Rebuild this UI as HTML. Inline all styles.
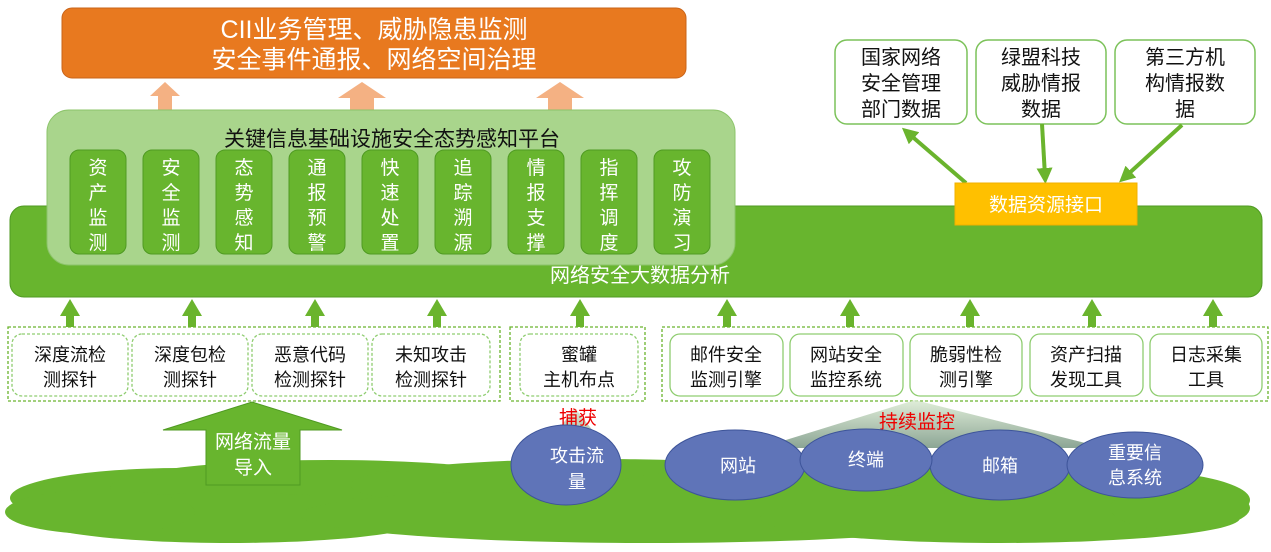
<!DOCTYPE html>
<html><head><meta charset="utf-8"><style>
body{margin:0;background:#fff;}
svg text{font-family:"Liberation Sans","Noto Sans CJK SC",sans-serif;}
</style></head><body>
<svg width="1271" height="547" viewBox="0 0 1271 547" xmlns="http://www.w3.org/2000/svg">
<defs>
<linearGradient id="tri" x1="0" y1="0" x2="0" y2="1">
<stop offset="0" stop-color="#d9ead0"/><stop offset="1" stop-color="#6f8f7a"/></linearGradient>
<marker id="ah" markerWidth="4" markerHeight="4" refX="2" refY="2" orient="auto"><path d="M0,0 L4,2 L0,4 z" fill="#6ab42d"/></marker>
</defs>
<!-- top orange -->
<rect x="62" y="8" width="624" height="70" rx="10" fill="#e8791f" stroke="#c9641a"/>
<text x="374" y="38" font-size="25" fill="#fff" text-anchor="middle">CII业务管理、威胁隐患监测</text>
<text x="374" y="68" font-size="25" fill="#fff" text-anchor="middle">安全事件通报、网络空间治理</text>
<!-- salmon arrows -->
<g fill="#f4b183">
<path d="M150,96 L165,82 L180,96 L172,96 L172,112 L158,112 L158,96z"/>
<path d="M338,98 L362,82 L386,98 L374,98 L374,112 L350,112 L350,98z"/>
<path d="M536,98 L560,82 L584,98 L572,98 L572,112 L548,112 L548,98z"/>
</g>
<!-- big green bar -->
<rect x="10" y="206" width="1252" height="91" rx="14" fill="#68b52e" stroke="#4f9a22"/>
<text x="640" y="282" font-size="20" fill="#fff" text-anchor="middle">网络安全大数据分析</text>
<!-- platform -->
<rect x="47" y="110" width="688" height="155" rx="22" fill="#a9d58c" stroke="#8cc46a"/>
<text x="392" y="146" font-size="21" fill="#111" text-anchor="middle">关键信息基础设施安全态势感知平台</text>
<g font-size="19" fill="#fff" text-anchor="middle">
<g transform="translate(70,150)"><rect width="56" height="104" rx="9" fill="#68b52e" stroke="#4f9a22"/><text x="28" y="24">资</text><text x="28" y="49">产</text><text x="28" y="74">监</text><text x="28" y="99">测</text></g>
<g transform="translate(143,150)"><rect width="56" height="104" rx="9" fill="#68b52e" stroke="#4f9a22"/><text x="28" y="24">安</text><text x="28" y="49">全</text><text x="28" y="74">监</text><text x="28" y="99">测</text></g>
<g transform="translate(216,150)"><rect width="56" height="104" rx="9" fill="#68b52e" stroke="#4f9a22"/><text x="28" y="24">态</text><text x="28" y="49">势</text><text x="28" y="74">感</text><text x="28" y="99">知</text></g>
<g transform="translate(289,150)"><rect width="56" height="104" rx="9" fill="#68b52e" stroke="#4f9a22"/><text x="28" y="24">通</text><text x="28" y="49">报</text><text x="28" y="74">预</text><text x="28" y="99">警</text></g>
<g transform="translate(362,150)"><rect width="56" height="104" rx="9" fill="#68b52e" stroke="#4f9a22"/><text x="28" y="24">快</text><text x="28" y="49">速</text><text x="28" y="74">处</text><text x="28" y="99">置</text></g>
<g transform="translate(435,150)"><rect width="56" height="104" rx="9" fill="#68b52e" stroke="#4f9a22"/><text x="28" y="24">追</text><text x="28" y="49">踪</text><text x="28" y="74">溯</text><text x="28" y="99">源</text></g>
<g transform="translate(508,150)"><rect width="56" height="104" rx="9" fill="#68b52e" stroke="#4f9a22"/><text x="28" y="24">情</text><text x="28" y="49">报</text><text x="28" y="74">支</text><text x="28" y="99">撑</text></g>
<g transform="translate(581,150)"><rect width="56" height="104" rx="9" fill="#68b52e" stroke="#4f9a22"/><text x="28" y="24">指</text><text x="28" y="49">挥</text><text x="28" y="74">调</text><text x="28" y="99">度</text></g>
<g transform="translate(654,150)"><rect width="56" height="104" rx="9" fill="#68b52e" stroke="#4f9a22"/><text x="28" y="24">攻</text><text x="28" y="49">防</text><text x="28" y="74">演</text><text x="28" y="99">习</text></g>
</g>
<!-- data sources -->
<g font-size="20" fill="#111" text-anchor="middle">
<rect x="835" y="40" width="132" height="84" rx="12" fill="#fff" stroke="#7cc25a" stroke-width="1.5"/>
<text x="901" y="64">国家网络</text><text x="901" y="90">安全管理</text><text x="901" y="116">部门数据</text>
<rect x="976" y="40" width="130" height="84" rx="12" fill="#fff" stroke="#7cc25a" stroke-width="1.5"/>
<text x="1041" y="64">绿盟科技</text><text x="1041" y="90">威胁情报</text><text x="1041" y="116">数据</text>
<rect x="1115" y="40" width="140" height="84" rx="12" fill="#fff" stroke="#7cc25a" stroke-width="1.5"/>
<text x="1185" y="64">第三方机</text><text x="1185" y="90">构情报数</text><text x="1185" y="116">据</text>
</g>
<g stroke="#6ab42d" stroke-width="4" marker-end="url(#ah)">
<line x1="966" y1="183" x2="908" y2="133"/>
<line x1="1042" y1="124" x2="1045" y2="176"/>
<line x1="1182" y1="125" x2="1125" y2="177"/>
</g>
<rect x="955" y="183" width="182" height="42" fill="#ffc000" stroke="#f0b000"/>
<text x="1046" y="211" font-size="19" fill="#fff" text-anchor="middle">数据资源接口</text>
<!-- up arrows -->
<g fill="#6ab42d">
<path d="M60,316 L70,299 L80,316 L74,316 L74,327 L66,327 L66,316z"/>
<path d="M182,316 L192,299 L202,316 L196,316 L196,327 L188,327 L188,316z"/>
<path d="M305,316 L315,299 L325,316 L319,316 L319,327 L311,327 L311,316z"/>
<path d="M427,316 L437,299 L447,316 L441,316 L441,327 L433,327 L433,316z"/>
<path d="M570,316 L580,299 L590,316 L584,316 L584,327 L576,327 L576,316z"/>
<path d="M717,316 L727,299 L737,316 L731,316 L731,327 L723,327 L723,316z"/>
<path d="M840,316 L850,299 L860,316 L854,316 L854,327 L846,327 L846,316z"/>
<path d="M960,316 L970,299 L980,316 L974,316 L974,327 L966,327 L966,316z"/>
<path d="M1082,316 L1092,299 L1102,316 L1096,316 L1096,327 L1088,327 L1088,316z"/>
<path d="M1203,316 L1213,299 L1223,316 L1217,316 L1217,327 L1209,327 L1209,316z"/>
</g>
<!-- groups -->
<g fill="none" stroke="#6ab42d" stroke-dasharray="3,2" stroke-width="1.3">
<rect x="8" y="327" width="492" height="74"/>
<rect x="510" y="327" width="135" height="74"/>
<rect x="662" y="327" width="606" height="74"/>
</g>
<g fill="#fff" stroke="#8fcd70" stroke-width="1.3" stroke-dasharray="3,2">
<rect x="12" y="334" width="116" height="62" rx="10"/>
<rect x="132" y="334" width="116" height="62" rx="10"/>
<rect x="252" y="334" width="116" height="62" rx="10"/>
<rect x="372" y="334" width="118" height="62" rx="10"/>
<rect x="520" y="334" width="118" height="62" rx="10"/>
</g>
<g fill="#fff" stroke="#8fcd70" stroke-width="1.3">
<rect x="670" y="334" width="113" height="62" rx="10"/>
<rect x="790" y="334" width="113" height="62" rx="10"/>
<rect x="910" y="334" width="112" height="62" rx="10"/>
<rect x="1030" y="334" width="113" height="62" rx="10"/>
<rect x="1150" y="334" width="112" height="62" rx="10"/>
</g>
<g font-size="18" fill="#111" text-anchor="middle">
<text x="70" y="361">深度流检</text><text x="70" y="386">测探针</text>
<text x="190" y="361">深度包检</text><text x="190" y="386">测探针</text>
<text x="310" y="361">恶意代码</text><text x="310" y="386">检测探针</text>
<text x="431" y="361">未知攻击</text><text x="431" y="386">检测探针</text>
<text x="579" y="361">蜜罐</text><text x="579" y="386">主机布点</text>
<text x="726" y="361">邮件安全</text><text x="726" y="386">监测引擎</text>
<text x="846" y="361">网站安全</text><text x="846" y="386">监控系统</text>
<text x="966" y="361">脆弱性检</text><text x="966" y="386">测引擎</text>
<text x="1086" y="361">资产扫描</text><text x="1086" y="386">发现工具</text>
<text x="1206" y="361">日志采集</text><text x="1206" y="386">工具</text>
</g>
<!-- cloud -->
<g fill="#68b52e">
<ellipse cx="180" cy="498" rx="170" ry="30"/>
<ellipse cx="330" cy="488" rx="220" ry="28"/>
<ellipse cx="600" cy="485" rx="250" ry="26"/>
<ellipse cx="900" cy="490" rx="300" ry="28"/>
<ellipse cx="1120" cy="500" rx="130" ry="30"/>
<ellipse cx="230" cy="518" rx="200" ry="25"/>
<ellipse cx="650" cy="515" rx="350" ry="28"/>
<ellipse cx="1000" cy="518" rx="240" ry="25"/>
<ellipse cx="100" cy="512" rx="95" ry="22"/>
<ellipse cx="1180" cy="508" rx="70" ry="22"/>
</g>
<!-- big green arrow -->
<path d="M163,430 L252,402 L342,430 L300,430 L300,485 L206,485 L206,430z" fill="#68b52e" stroke="#4f9a22"/>
<text x="253" y="448" font-size="19" fill="#fff" text-anchor="middle">网络流量</text>
<text x="253" y="474" font-size="19" fill="#fff" text-anchor="middle">导入</text>
<!-- triangles -->
<path d="M575,408 L542,450 L608,450z" fill="url(#tri)" opacity="0.8"/>
<path d="M915,400 L760,448 L1105,448z" fill="url(#tri)" opacity="0.8"/>
<text x="578" y="424" font-size="19" fill="#e00" text-anchor="middle">捕获</text>
<text x="917" y="428" font-size="19" fill="#e00" text-anchor="middle">持续监控</text>
<!-- ellipses -->
<g fill="#5f74b8" stroke="#3d5499" stroke-width="1">
<ellipse cx="566" cy="465" rx="55" ry="40"/>
<ellipse cx="735" cy="465" rx="70" ry="35"/>
<ellipse cx="1000" cy="465" rx="70" ry="35"/>
<ellipse cx="866" cy="460" rx="66" ry="31"/>
<ellipse cx="1135" cy="465" rx="68" ry="33"/>
</g>
<g font-size="18" fill="#fff" text-anchor="middle">
<text x="577" y="462">攻击流</text><text x="577" y="488">量</text>
<text x="738" y="472">网站</text>
<text x="866" y="466">终端</text>
<text x="1000" y="472">邮箱</text>
<text x="1135" y="459">重要信</text><text x="1135" y="484">息系统</text>
</g>
</svg>
</body></html>
